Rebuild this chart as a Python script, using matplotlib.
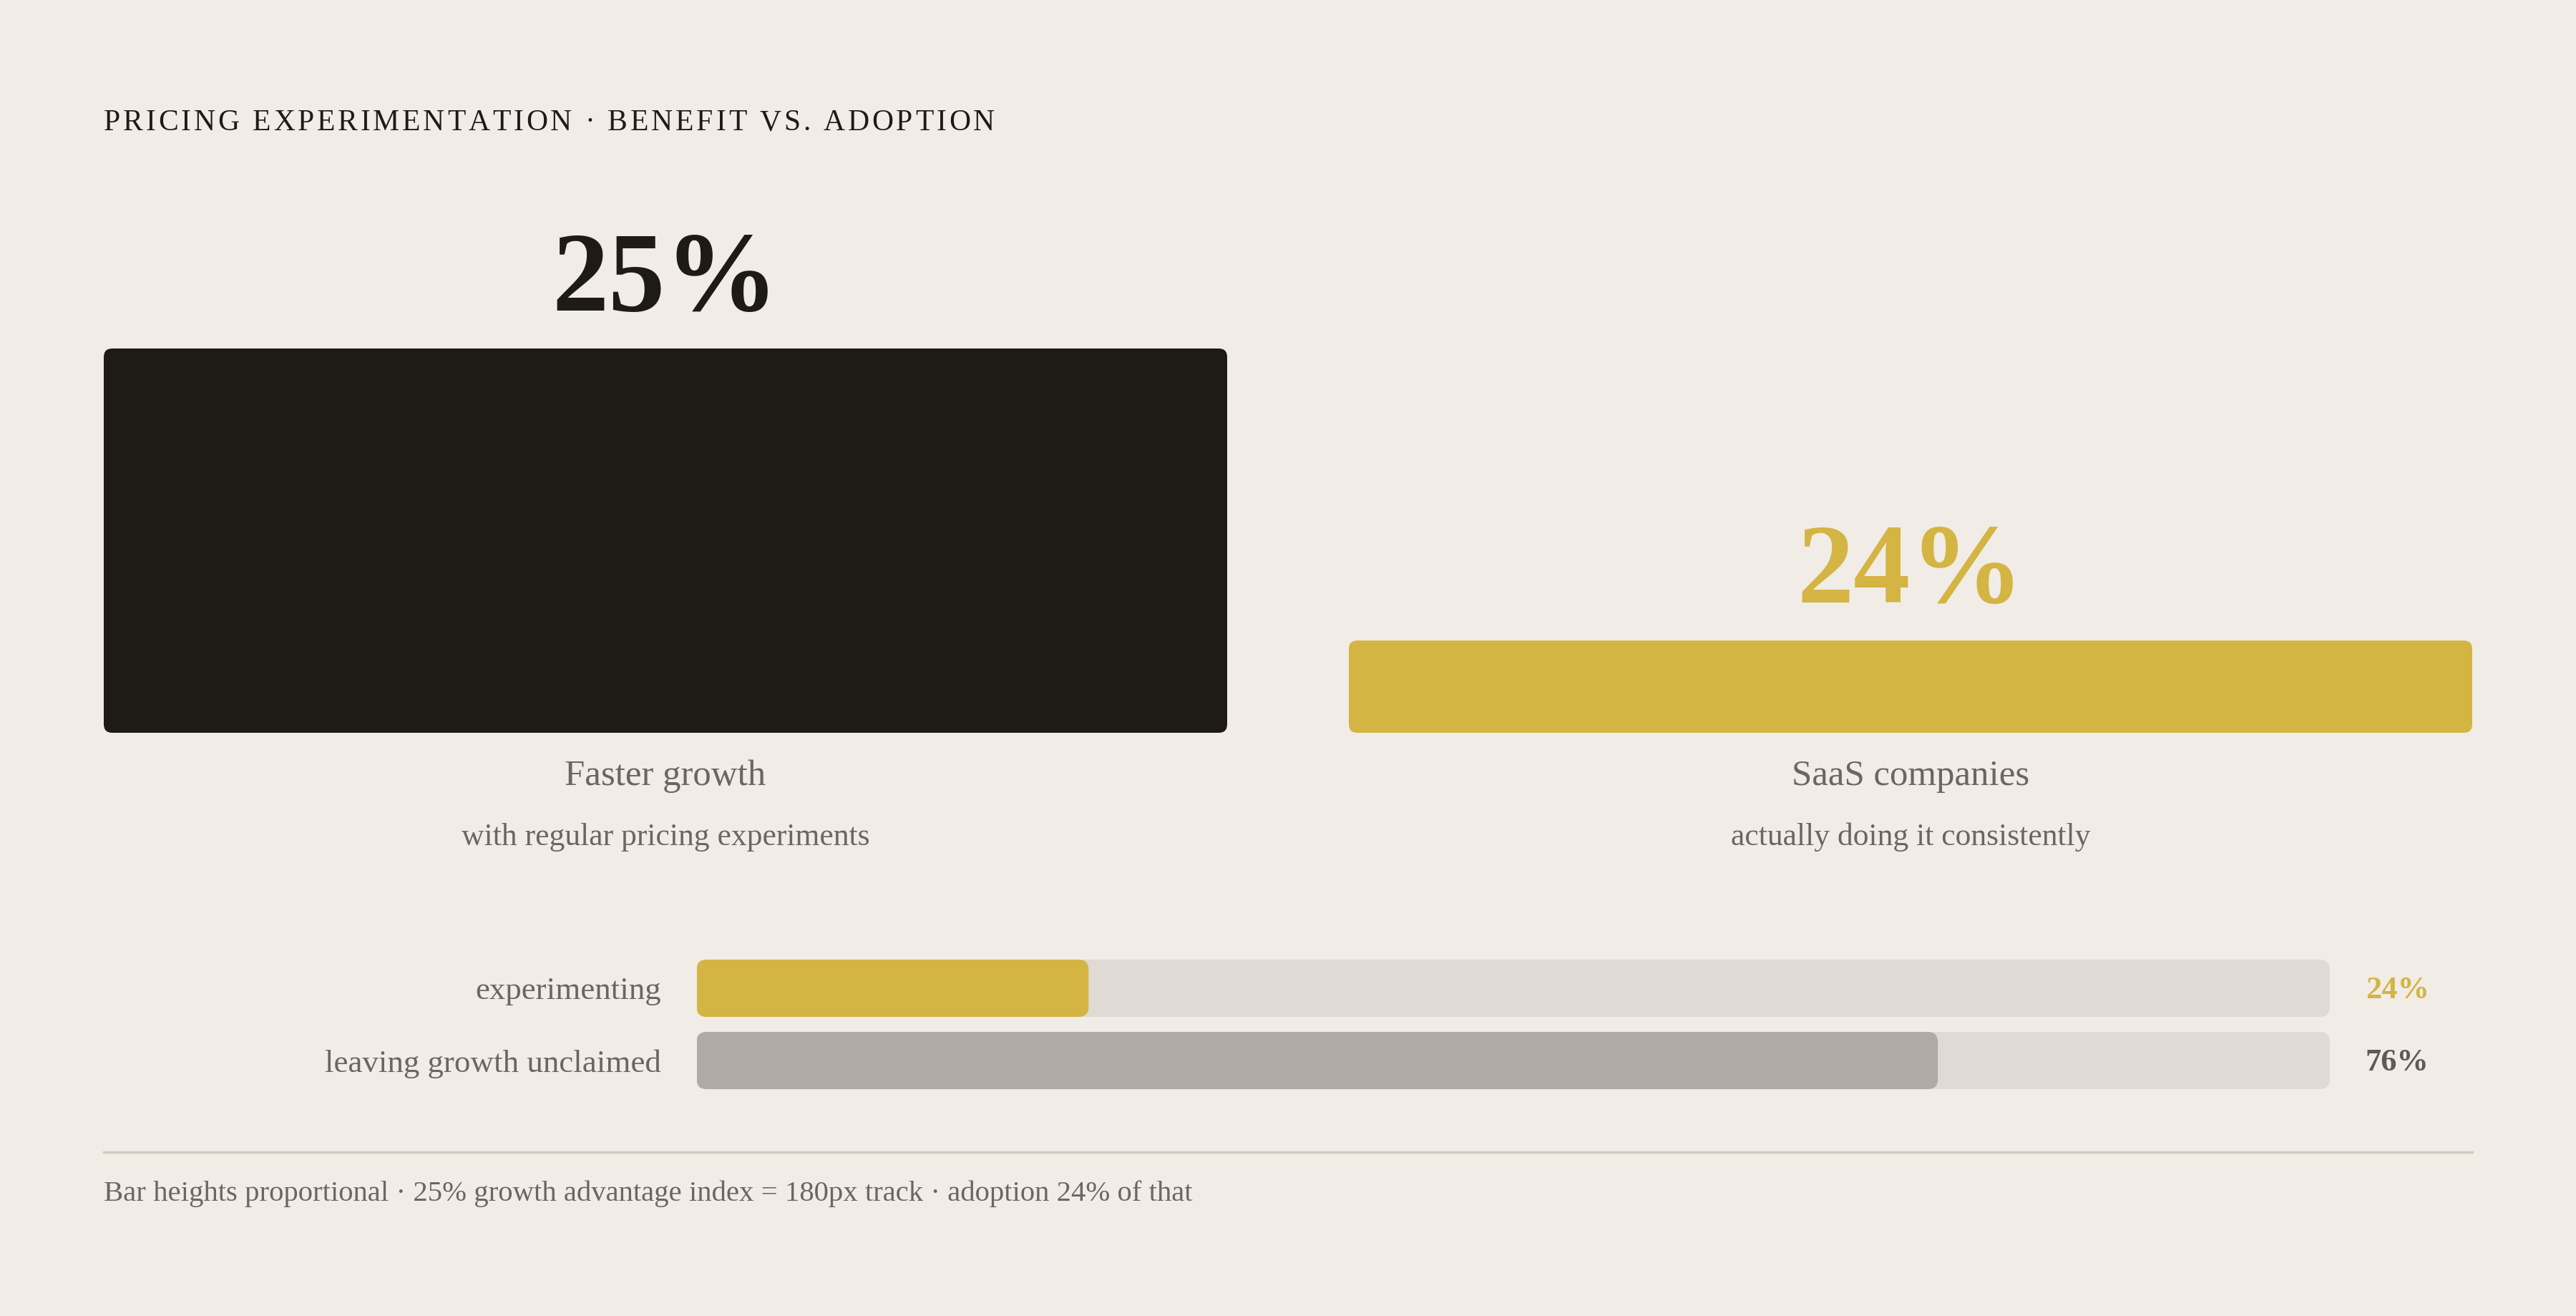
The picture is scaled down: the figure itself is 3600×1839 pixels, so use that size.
import matplotlib
matplotlib.use("Agg")
import matplotlib.pyplot as plt
from matplotlib.patches import FancyBboxPatch
from matplotlib.lines import Line2D

# ---- data ----
title = "PRICING EXPERIMENTATION · BENEFIT VS. ADOPTION"
big_labels = ["25%", "24%"]
big_names = ["Faster growth", "SaaS companies"]
big_subs = ["with regular pricing experiments", "actually doing it consistently"]
growth_advantage = 25
adoption = 24
# growth advantage index = full track, adoption drawn as 24% of that
bar_heights = [growth_advantage / growth_advantage, adoption / 100]
split_labels = ["experimenting", "leaving growth unclaimed"]
split_values = [24, 76]
footnote = ("Bar heights proportional · 25% growth advantage index = 180px track"
            " · adoption 24% of that")

# ---- style ----
BG = "#f1ece5"
DARK = "#1e1b17"
GOLD = "#d4b443"
TRACK = "#dfdad3"
GREY = "#afaaa4"
TEXT = "#6b6660"
SERIF = ["Liberation Serif", "DejaVu Serif"]

W, H = 3600, 1839
fig = plt.figure(figsize=(W / 200, H / 200), dpi=200, facecolor=BG)


def rounded(ax, rects, r_px, colors):
    # swap plain bar rectangles for rounded ones, radius given in pixels
    x0, y0 = ax.transData.transform((0, 0))
    x1, y1 = ax.transData.transform((1, 1))
    ux = 1 / abs(x1 - x0)
    uy = 1 / abs(y1 - y0)
    for rect, c in zip(rects, colors):
        box = FancyBboxPatch((rect.get_x(), rect.get_y()), rect.get_width(), rect.get_height(),
                             boxstyle=f"round,pad=0,rounding_size={r_px * ux}",
                             mutation_aspect=uy / ux, fc=c, ec="none")
        rect.remove()
        ax.add_patch(box)


def spaced_text(x, y, s, total_px, **kw):
    r = fig.canvas.get_renderer()
    parts = [fig.text(0, 0, ch, **kw) for ch in s]
    widths = [p.get_window_extent(r).width for p in parts]
    for p in parts:
        p.remove()
    gap = (total_px - sum(widths)) / (len(s) - 1)
    for ch, w in zip(s, widths):
        fig.text(x, y, ch, **kw)
        x += (w + gap) / W


# title
spaced_text(145 / W, 1 - 172 / H, title, 1245, fontsize=15, family=SERIF,
            color=DARK, va="center", ha="left")

# ---- main comparison bars ----
ax = fig.add_axes([145 / W, 815 / H, 3310 / W, 537 / H])
ax.set_facecolor("none")
ax.set_xlim(-0.45115, 1.45115)
ax.set_ylim(0, 1)
ax.axis("off")
main_colors = [DARK, GOLD]
bars = ax.bar([0, 1], bar_heights, width=0.9023, color=main_colors)
rounded(ax, list(bars), 12, main_colors)

for i, (h, lab, name, sub) in enumerate(zip(bar_heights, big_labels, big_names, big_subs)):
    ax.annotate(lab, xy=(i, h), xytext=(0, 19), textcoords="offset points",
                ha="center", va="baseline", fontsize=57, fontweight="bold",
                family=SERIF, color=main_colors[i], annotation_clip=False)
    ax.annotate(name, xy=(i, 0), xytext=(0, -22), textcoords="offset points",
                ha="center", va="center", fontsize=18.3, family=SERIF, color=TEXT,
                annotation_clip=False)
    ax.annotate(sub, xy=(i, 0), xytext=(0, -52.5), textcoords="offset points",
                ha="center", va="center", fontsize=15.7, family=SERIF, color=TEXT,
                annotation_clip=False)

# ---- split bars ----
ax2 = fig.add_axes([973.5 / W, 317 / H, 2282.5 / W, 181 / H])
ax2.set_facecolor("none")
ax2.set_xlim(0, 100)
ax2.set_ylim(1.396, -0.396)
ax2.axis("off")
ys = list(range(len(split_values)))
tracks = ax2.barh(ys, [100] * len(ys), height=0.792, color=TRACK)
rounded(ax2, list(tracks), 14, [TRACK] * len(ys))
fill_colors = [GOLD, GREY]
fills = ax2.barh(ys, split_values, height=0.792, color=fill_colors)
rounded(ax2, list(fills), 14, fill_colors)

value_colors = [GOLD, "#5f5a55"]
for y, lab, v, c in zip(ys, split_labels, split_values, value_colors):
    ax2.annotate(lab, xy=(0, y), xytext=(-18, -1.6), textcoords="offset points",
                 ha="right", va="center", fontsize=16.2, family=SERIF, color=TEXT,
                 annotation_clip=False)
    ax2.annotate(f"{v}%", xy=(100, y), xytext=(18, -1.2), textcoords="offset points",
                 ha="left", va="center", fontsize=16, fontweight="bold", family=SERIF,
                 color=c, annotation_clip=False)

# ---- rule + footnote ----
fig.add_artist(Line2D([145 / W, 3455 / W], [1 - 1610 / H] * 2, transform=fig.transFigure,
                      color="#d0cac2", lw=1.2))
fig.text(145 / W, 1 - 1668 / H, footnote, fontsize=14.7, family=SERIF, color=TEXT,
         ha="left", va="center")

fig.savefig("out.png", dpi=200, facecolor=BG)
